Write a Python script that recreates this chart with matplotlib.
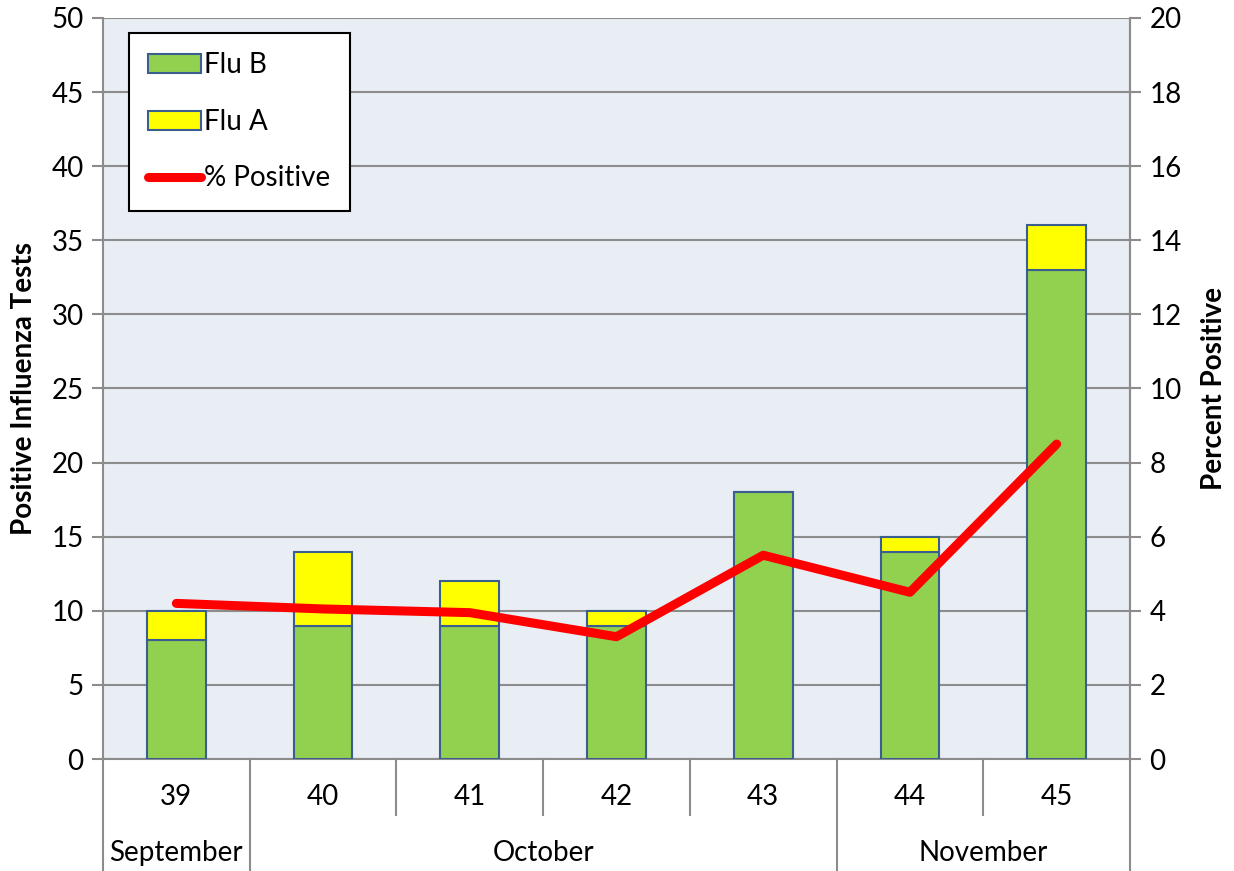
import numpy as np
import matplotlib
matplotlib.use("Agg")
import matplotlib.pyplot as plt
from matplotlib.patches import Patch
from matplotlib.lines import Line2D
from matplotlib.transforms import blended_transform_factory

plt.rcParams['font.family'] = ['Lato', 'DejaVu Sans']

weeks = ['39', '40', '41', '42', '43', '44', '45']
months = ['September', 'October', 'November']
month_weeks = [1, 4, 2]  # weeks per month
flu_b = [8, 9, 9, 9, 18, 14, 33]
flu_a = [2, 5, 3, 1, 0, 1, 3]
pct_pos = [4.2, 4.05, 3.95, 3.3, 5.5, 4.5, 8.5]

green = '#92D050'
yellow = '#FFFF00'
edge = '#3A5E90'
grid_c = '#8C8C8C'
fs = 20
lw_line = 6.5

W, H = 1234, 871
fig = plt.figure(figsize=(W / 100, H / 100), dpi=100)
left, right, top, bottom = 103, 1130, 18, 759
ax = fig.add_axes([left / W, (H - bottom) / H, (right - left) / W, (bottom - top) / H])
ax.set_facecolor('#E9EDF4')

x = np.arange(len(weeks))
ax.bar(x, flu_b, 0.4, color=green, edgecolor=edge, linewidth=1.5, zorder=3)
ax.bar(x, flu_a, 0.4, bottom=flu_b, color=yellow, edgecolor=edge, linewidth=1.5, zorder=3)
ax.set_xlim(-0.5, len(weeks) - 0.5)
ax.set_ylim(0, 50)
ax.set_yticks(range(0, 51, 5))
ax.yaxis.grid(True, color=grid_c, linewidth=1.5, zorder=0)
ax.set_axisbelow(True)
ax.set_xticks([])
ax.spines['top'].set_visible(False)
for s in ['left', 'right', 'bottom']:
    ax.spines[s].set_color(grid_c)
    ax.spines[s].set_linewidth(1.5)
ax.tick_params(axis='y', direction='out', length=8, width=1.5, color=grid_c,
               labelsize=fs, pad=6)
ax.set_ylabel('Positive Influenza Tests', fontsize=fs, fontweight='bold', labelpad=10)

ax2 = ax.twinx()
ax2.set_ylim(0, 20)
ax2.set_yticks(range(0, 21, 2))
ax2.plot(x, pct_pos, color='#FF0000', linewidth=lw_line, solid_capstyle='round',
         solid_joinstyle='round', zorder=5)
for s in ['top', 'left', 'bottom']:
    ax2.spines[s].set_visible(False)
ax2.spines['right'].set_color(grid_c)
ax2.spines['right'].set_linewidth(1.5)
ax2.tick_params(axis='y', direction='out', length=8, width=1.5, color=grid_c,
                labelsize=fs, pad=6)
ax2.set_ylabel('Percent Positive', fontsize=fs, fontweight='bold', labelpad=14)

# two-level category axis
ah = bottom - top
y_week = -(815 - bottom) / ah
y_month = -(H - bottom) / ah
trans = blended_transform_factory(ax.transData, ax.transAxes)
bounds = np.cumsum([0] + month_weeks) - 0.5
for i in range(len(weeks) + 1):
    b = i - 0.5
    yy = y_month if b in bounds else y_week
    ax.plot([b, b], [0, yy], color=grid_c, linewidth=1.5, transform=trans, clip_on=False)
for i, w in enumerate(weeks):
    ax.text(i, -(797 - bottom) / ah, w, transform=trans, ha='center', va='center', fontsize=fs)
for m, a, b in zip(months, bounds[:-1], bounds[1:]):
    ax.text((a + b) / 2, -(853 - bottom) / ah, m, transform=trans, ha='center',
            va='center', fontsize=fs)

handles = [Patch(facecolor=green, edgecolor=edge, linewidth=1.5),
           Patch(facecolor=yellow, edgecolor=edge, linewidth=1.5),
           Line2D([0], [0], color='#FF0000', linewidth=lw_line, solid_capstyle='round')]
leg = ax2.legend(handles, ['Flu B', 'Flu A', '% Positive'], loc='upper left',
                 bbox_to_anchor=(0.0253, 0.98), borderaxespad=0, fontsize=fs,
                 fancybox=False, framealpha=1, edgecolor='black', handlelength=1.9,
                 handleheight=0.68, handletextpad=0.1, labelspacing=1.1,
                 borderpad=0.7)
leg.get_frame().set_linewidth(1.5)

fig.savefig('out.png', dpi=100)
